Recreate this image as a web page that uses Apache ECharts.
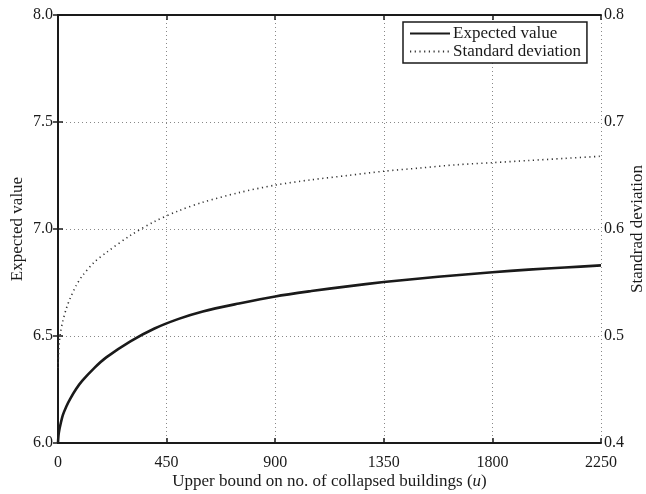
<!DOCTYPE html>
<html>
<head>
<meta charset="utf-8">
<script src="https://cdn.jsdelivr.net/npm/echarts@6/dist/echarts.min.js"></script>
<style>
  html, body { margin: 0; padding: 0; background: #fff; }
  #chart { width: 646px; height: 494px; }
</style>
</head>
<body>
<div id="chart"></div>
<script>
// Upper bound u on number of collapsed buildings
const uValues = [0, 2, 5, 10, 20, 35, 50, 75, 100, 150, 200, 300, 400, 500, 600, 750, 900, 1050, 1200, 1350, 1500, 1650, 1800, 1950, 2100, 2250];
// Expected value (left axis)
const expectedValue = [6.000, 6.035, 6.058, 6.085, 6.130, 6.172, 6.205, 6.252, 6.290, 6.350, 6.400, 6.475, 6.535, 6.580, 6.615, 6.652, 6.685, 6.710, 6.732, 6.752, 6.769, 6.784, 6.798, 6.810, 6.820, 6.830];
// Standard deviation (right axis)
const standardDeviation = [0.470, 0.482, 0.493, 0.503, 0.514, 0.526, 0.535, 0.547, 0.556, 0.569, 0.578, 0.594, 0.607, 0.617, 0.625, 0.634, 0.641, 0.646, 0.650, 0.654, 0.657, 0.660, 0.662, 0.664, 0.666, 0.668];

const seriesNames = ['Expected value', 'Standard deviation'];
const xAxisTitle = 'Upper bound on no. of collapsed buildings';
const leftAxisTitle = 'Expected value';
const rightAxisTitle = 'Standrad deviation';

const FONT = '"Liberation Serif", "DejaVu Serif", serif';
const INK = '#1a1a1a';

const chart = echarts.init(document.getElementById('chart'), null, { renderer: 'canvas' });

const axisLine = { show: true, lineStyle: { color: INK, width: 2 } };
const axisTick = { show: true, inside: true, length: 5, lineStyle: { color: INK, width: 1.5 } };
const labelStyle = { color: INK, fontFamily: FONT, fontSize: 16 };
const gridLine = { show: true, lineStyle: { color: '#888', type: [1, 3], width: 1 } };

chart.setOption({
  animation: false,
  backgroundColor: '#fff',
  grid: { left: 58, right: 45, top: 15, bottom: 51, containLabel: false, outerBoundsMode: 'none' },
  legend: {
    data: seriesNames,
    orient: 'vertical',
    left: 403,
    top: 22,
    width: 190,
    padding: [3, 6, 3, 6],
    itemGap: 1,
    itemWidth: 40,
    itemHeight: 14,
    // line-only legend keys: the marker is hidden, the line keeps the series style
    itemStyle: { opacity: 0 },
    backgroundColor: '#fff',
    borderColor: INK,
    borderWidth: 1.5,
    borderRadius: 0,
    textStyle: { color: INK, fontFamily: FONT, fontSize: 17, padding: [0, 0, 0, -2] }
  },
  xAxis: [
    {
      type: 'value',
      min: 0, max: 2250, interval: 450,
      position: 'bottom',
      axisLine, axisTick,
      axisLabel: Object.assign({ margin: 12, formatter: v => String(v) }, labelStyle),
      splitLine: gridLine,
      name: xAxisTitle + ' ({it|u})',
      nameLocation: 'middle',
      nameMoveOverlap: false,
      nameGap: 30,
      nameTextStyle: {
        color: INK, fontFamily: FONT, fontSize: 17,
        rich: { it: { fontStyle: 'italic', fontFamily: FONT, fontSize: 17, color: INK } }
      }
    },
    {
      type: 'value',
      min: 0, max: 2250, interval: 450,
      position: 'top',
      axisLine, axisTick,
      axisLabel: { show: false },
      splitLine: { show: false }
    }
  ],
  yAxis: [
    {
      type: 'value',
      min: 6.0, max: 8.0, interval: 0.5,
      position: 'left',
      axisLine, axisTick,
      axisLabel: Object.assign({ margin: 5, formatter: v => v.toFixed(1) }, labelStyle),
      splitLine: gridLine,
      name: leftAxisTitle,
      nameLocation: 'middle',
      nameMoveOverlap: false,
      nameGap: 32,
      nameTextStyle: { color: INK, fontFamily: FONT, fontSize: 17 }
    },
    {
      type: 'value',
      min: 0.4, max: 0.8, interval: 0.1,
      position: 'right',
      axisLine, axisTick,
      axisLabel: Object.assign({ margin: 3, formatter: v => v.toFixed(1) }, labelStyle),
      splitLine: { show: false },
      name: rightAxisTitle,
      nameLocation: 'middle',
      nameMoveOverlap: false,
      nameGap: 28,
      nameTextStyle: { color: INK, fontFamily: FONT, fontSize: 17 }
    }
  ],
  series: [
    {
      name: seriesNames[0],
      type: 'line',
      xAxisIndex: 0,
      yAxisIndex: 0,
      data: uValues.map((u, i) => [u, expectedValue[i]]),
      showSymbol: false,
      symbol: 'none',
      smooth: 0.3,
      lineStyle: { color: INK, width: 2.6, type: 'solid' },
      itemStyle: { color: INK }
    },
    {
      name: seriesNames[1],
      type: 'line',
      xAxisIndex: 0,
      yAxisIndex: 1,
      data: uValues.map((u, i) => [u, standardDeviation[i]]),
      showSymbol: false,
      symbol: 'none',
      smooth: 0.3,
      lineStyle: { color: '#333', width: 1.6, type: [1.2, 3.5] },
      itemStyle: { color: '#333' }
    }
  ]
});
</script>
</body>
</html>
